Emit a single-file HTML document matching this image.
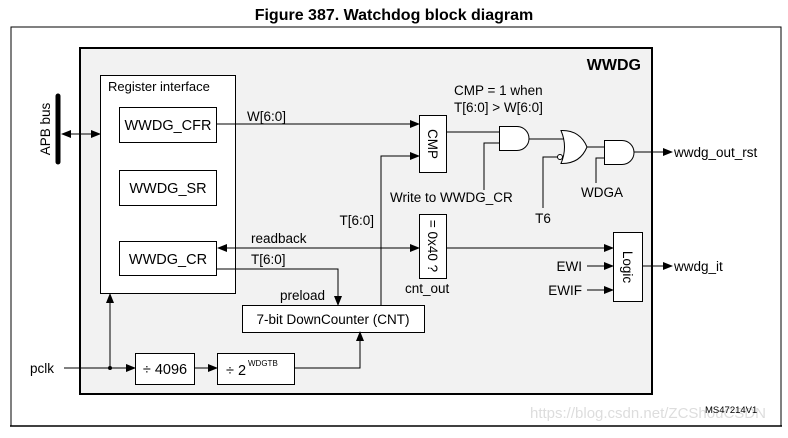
<!DOCTYPE html>
<html><head><meta charset="utf-8"><style>
html,body{margin:0;padding:0;background:#fff;}
svg text{font-family:"Liberation Sans",Arial,sans-serif;fill:#000;}
</style></head><body>
<svg width="788" height="433" viewBox="0 0 788 433" xmlns="http://www.w3.org/2000/svg">
<defs>
<marker id="a" markerWidth="10" markerHeight="8" refX="9" refY="4" orient="auto" markerUnits="userSpaceOnUse"><path d="M0,0 L10,4 L0,8 z" fill="#000"/></marker>
<marker id="s" markerWidth="10" markerHeight="8" refX="1" refY="4" orient="auto" markerUnits="userSpaceOnUse"><path d="M10,0 L0,4 L10,8 z" fill="#000"/></marker>
</defs>
<text x="394" y="20" text-anchor="middle" font-size="16" font-weight="bold">Figure 387. Watchdog block diagram</text>
<path d="M11,426 L11,27 L781,27 L781,426" fill="none" stroke="#000" stroke-width="1"/>
<line x1="10" y1="426" x2="782" y2="426" stroke="#000" stroke-width="1.5"/>
<rect x="80" y="48" width="572" height="346" fill="#f2f2f2" stroke="#000" stroke-width="2"/>
<text x="641" y="70" text-anchor="end" font-size="16" font-weight="bold">WWDG</text>
<rect x="100.5" y="75.5" width="135" height="218" fill="#fff" stroke="#000"/>
<text x="108" y="91" font-size="13">Register interface</text>
<rect x="119.5" y="107.5" width="97" height="35" fill="#fff" stroke="#000"/>
<text x="168" y="130" text-anchor="middle" font-size="14.5">WWDG_CFR</text>
<rect x="119.5" y="170.5" width="97" height="35" fill="#fff" stroke="#000"/>
<text x="168" y="193" text-anchor="middle" font-size="14.5">WWDG_SR</text>
<rect x="119.5" y="241.5" width="97" height="34" fill="#fff" stroke="#000"/>
<text x="168" y="264" text-anchor="middle" font-size="14.5">WWDG_CR</text>
<line x1="58" y1="96" x2="58" y2="162" stroke="#000" stroke-width="5" stroke-linecap="round"/>
<text transform="translate(50,129) rotate(-90)" text-anchor="middle" font-size="13.5">APB bus</text>
<line x1="62" y1="134" x2="100" y2="134" stroke="#000" marker-start="url(#s)" marker-end="url(#a)"/>
<rect x="419.5" y="115.5" width="27" height="57" fill="#fff" stroke="#000"/>
<text transform="translate(428,144) rotate(90)" text-anchor="middle" font-size="13.5">CMP</text>
<rect x="419.5" y="214.5" width="27" height="64" fill="#fff" stroke="#000"/>
<text transform="translate(428,246) rotate(90)" text-anchor="middle" font-size="13.5">= 0x40 ?</text>
<rect x="613.5" y="232.5" width="29" height="69" fill="#fff" stroke="#000"/>
<text transform="translate(623,267) rotate(90)" text-anchor="middle" font-size="13.5">Logic</text>
<rect x="242.5" y="305.5" width="182" height="27" fill="#fff" stroke="#000"/>
<text x="333" y="324" text-anchor="middle" font-size="13.5">7-bit DownCounter (CNT)</text>
<rect x="135.5" y="353.5" width="59" height="31" fill="#fff" stroke="#000"/>
<text x="165" y="374" text-anchor="middle" font-size="14.5">÷ 4096</text>
<rect x="217.5" y="353.5" width="77" height="31" fill="#fff" stroke="#000"/>
<text x="226" y="375" font-size="14.5">÷ 2</text><text x="248" y="366" font-size="8">WDGTB</text>
<g stroke="#000" fill="none">
<line x1="216" y1="124" x2="419" y2="124" marker-end="url(#a)"/>
<polyline points="381,305 381,156 419,156" marker-end="url(#a)"/>
<line x1="218" y1="248" x2="419" y2="248" marker-start="url(#s)" marker-end="url(#a)"/>
<polyline points="216,269 338,269 338,305" marker-end="url(#a)"/>
<polyline points="294,368 360,368 360,332" marker-end="url(#a)"/>
<line x1="64" y1="368" x2="135" y2="368" marker-end="url(#a)"/>
<line x1="194" y1="368" x2="217" y2="368" marker-end="url(#a)"/>
<line x1="110" y1="368" x2="110" y2="294" marker-end="url(#a)"/>
<line x1="446" y1="248" x2="613" y2="248" marker-end="url(#a)"/>
<line x1="587" y1="266" x2="613" y2="266" marker-end="url(#a)"/>
<line x1="587" y1="290" x2="613" y2="290" marker-end="url(#a)"/>
<line x1="642" y1="266" x2="672" y2="266" marker-end="url(#a)"/>
<line x1="634" y1="152" x2="672" y2="152" marker-end="url(#a)"/>
<line x1="446" y1="132" x2="499" y2="132"/>
<polyline points="484,190 484,143 499,143"/>
<line x1="529" y1="139" x2="564" y2="139"/>
<polyline points="543,208 543,157 558,157"/>
<line x1="587" y1="147" x2="604" y2="147"/>
<polyline points="596,183 596,158 604,158"/>
</g>
<circle cx="110" cy="368" r="2" fill="#000"/>
<path d="M499.5,126.5 L517,126.5 A12,12 0 0 1 517,150.5 L499.5,150.5 Z" fill="#fff" stroke="#000"/>
<path d="M561,130.5 Q580,130 587,147 Q580,164 561,163.5 Q568,147 561,130.5 Z" fill="#fff" stroke="#000"/>
<circle cx="560" cy="157" r="2.5" fill="#fff" stroke="#000"/>
<path d="M604.5,140.5 L622,140.5 A12,12 0 0 1 622,164.5 L604.5,164.5 Z" fill="#fff" stroke="#000"/>
<text x="247" y="121" font-size="13.5">W[6:0]</text>
<text x="454" y="95" font-size="13.5">CMP = 1 when</text>
<text x="454" y="112" font-size="13.5">T[6:0] &gt; W[6:0]</text>
<text x="390" y="202" font-size="13.5">Write to WWDG_CR</text>
<text x="543" y="223" text-anchor="middle" font-size="13.5">T6</text>
<text x="602" y="197" text-anchor="middle" font-size="13.5">WDGA</text>
<text x="374" y="225" text-anchor="end" font-size="13.5">T[6:0]</text>
<text x="251" y="243" font-size="13.5">readback</text>
<text x="251" y="264" font-size="13.5">T[6:0]</text>
<text x="280" y="300" font-size="13.5">preload</text>
<text x="405" y="293" font-size="13.5">cnt_out</text>
<text x="582" y="271" text-anchor="end" font-size="13.5">EWI</text>
<text x="582" y="295" text-anchor="end" font-size="13.5">EWIF</text>
<text x="674" y="157" font-size="13.5">wwdg_out_rst</text>
<text x="674" y="271" font-size="13.5">wwdg_it</text>
<text x="30" y="373" font-size="13.5">pclk</text>
<text x="530" y="418" font-size="15" style="fill:#ddd">https://blog.csdn.net/ZCShouCSDN</text>
<text x="705" y="413" font-size="9.5">MS47214V1</text>
</svg>
</body></html>
